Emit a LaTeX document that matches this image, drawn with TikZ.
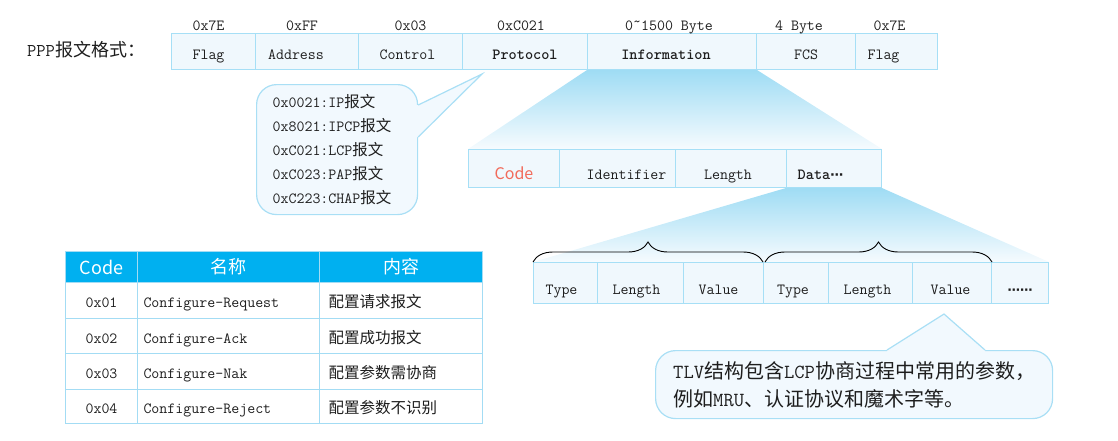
\documentclass[tikz,border=0pt]{standalone}
\usepackage{fontspec}
\newfontfamily\cjk{Noto Sans CJK SC}
\newfontfamily\djv{DejaVu Sans}
\usetikzlibrary{decorations.pathreplacing,backgrounds}
\definecolor{cellfill}{HTML}{F0F8FD}
\definecolor{cellline}{HTML}{A6DFF6}
\definecolor{fanA}{HTML}{9FDCF4}
\definecolor{fanB}{HTML}{F6FBFE}
\definecolor{bubfill}{HTML}{F2F9FE}
\definecolor{bubline}{HTML}{A9DFF5}
\definecolor{txt}{HTML}{1E1E1E}
\definecolor{codered}{HTML}{F26B5B}
\definecolor{headblue}{HTML}{00B0F0}
\definecolor{tabline}{HTML}{A3DCF4}
\begin{document}
\begin{tikzpicture}[x=1pt,y=-1pt,
  mono/.style={font=\ttfamily\fontsize{15.5}{18}\selectfont, text=txt},
  cell/.style={draw=cellline, fill=cellfill, line width=1pt, inner sep=0pt, anchor=north west, mono},
  toprow/.style={cell, minimum height=36pt, text height=15pt, text depth=0pt},
  midrow/.style={cell, minimum height=38pt, text height=22pt, text depth=0pt},
  tlvrow/.style={cell, minimum height=41pt, text height=23pt, text depth=0pt},
  toplabel/.style={mono, anchor=base, inner sep=0pt},
  bubble/.style={draw=bubline, fill=bubfill, line width=1.2pt, rounded corners=20pt, anchor=north west, text=txt},
  bubedge/.style={draw=bubline, line width=1.2pt},
  fan/.style={top color=fanA, bottom color=fanB},
  bracestyle/.style={decorate, decoration={brace, amplitude=20pt}, draw=black, line width=0.9pt},
  thead/.style={draw=tabline, fill=headblue, text=white, font=\cjk\fontsize{18}{20}\selectfont, anchor=north west, inner sep=0pt, line width=1pt},
  tcell/.style={draw=tabline, fill=white, mono, anchor=north west, inner sep=0pt, line width=1pt, text height=14pt, text depth=0pt},
  tname/.style={tcell, text width=170pt, inner xsep=6pt, align=left},
  tcont/.style={tcell, text width=145pt, inner xsep=9pt, align=left, font=\cjk\fontsize{15.5}{18}\selectfont}
]
\useasboundingbox (0,0) rectangle (1118,440);

% title
\node[anchor=base west, inner sep=0pt, text=txt, font=\fontsize{18}{20}\selectfont] (ppp) at (27,56) {{\ttfamily PPP}{\cjk 报文格式：}};

% top row
\node[toprow, minimum width=84pt]  (tflag1) at (171,33) {Flag\kern10pt};
\node[toprow, minimum width=103pt] (taddr)  at (255,33) {Address\kern22pt};
\node[toprow, minimum width=104pt] (tctrl)  at (358,33) {Control\kern6pt};
\node[toprow, minimum width=125pt] (tproto) at (462,33) {\bfseries Protocol};
\node[toprow, minimum width=169pt] (tinfo)  at (587,33) {\bfseries Information\kern12pt};
\node[toprow, minimum width=99pt]  (tfcs)   at (756,33) {FCS};
\node[toprow, minimum width=82pt]  (tflag2) at (855,33) {Flag\kern26pt};

\node[toplabel] (l1) at ([xshift=-5pt,yshift=3pt]tflag1.north) {0x7E};
\node[toplabel] (l2) at ([xshift=-5pt,yshift=3pt]taddr.north) {0xFF};
\node[toplabel] (l3) at ([yshift=3pt]tctrl.north) {0x03};
\node[toplabel] (l4) at ([xshift=-4pt,yshift=3pt]tproto.north) {0xC021};
\node[toplabel] (l5) at ([xshift=-3pt,yshift=3pt]tinfo.north) {0˜1500 Byte};
\node[toplabel] (l6) at ([xshift=-7pt,yshift=3pt]tfcs.north) {4 Byte};
\node[toplabel] (l7) at ([xshift=-7pt,yshift=3pt]tflag2.north) {0x7E};

% protocol bubble
\node[bubble, minimum height=130pt, text width=129pt, inner xsep=16pt, align=left,
      font=\ttfamily\fontsize{15.5}{24}\selectfont] (pbub) at (256,84)
  {0x0021:IP{\cjk 报文}\\0x8021:IPCP{\cjk 报文}\\0xC021:LCP{\cjk 报文}\\0xC023:PAP{\cjk 报文}\\0xC223:CHAP{\cjk 报文}};
\coordinate (ptip) at (482,74);
\fill[bubfill] ([shift={(-3pt,-21pt)}]pbub.north east) -- ([yshift=-21pt]pbub.north east) -- (ptip)
  -- ([yshift=-53pt]pbub.north east) -- ([shift={(-3pt,-53pt)}]pbub.north east) -- cycle;
\draw[bubedge] ([yshift=-21pt]pbub.north east) -- (ptip) -- ([yshift=-53pt]pbub.north east);

% LCP header row
\node[midrow, minimum width=91pt, text=codered, font=\cjk\fontsize{16}{18}\selectfont] (ccode) at (468,149) {Code};
\node[midrow, minimum width=116pt] (cid)   at (559,149) {\kern18pt Identifier};
\node[midrow, minimum width=111pt] (clen)  at (675,149) {Length\kern6pt};
\node[midrow, minimum width=95pt]  (cdata) at (786,149) {\bfseries Data{\djv\fontsize{13}{15}\selectfont ⋯}\kern27pt};

% TLV row
\node[tlvrow, minimum width=64pt] (t1) at (533,262) {Type\kern8pt};
\node[tlvrow, minimum width=86pt] (t2) at (597,262) {Length\kern8pt};
\node[tlvrow, minimum width=80pt] (t3) at (683,262) {Value\kern10pt};
\node[tlvrow, minimum width=65pt] (t4) at (763,262) {Type\kern6pt};
\node[tlvrow, minimum width=84pt] (t5) at (828,262) {Length\kern6pt};
\node[tlvrow, minimum width=79pt] (t6) at (912,262) {Value\kern3pt};
\node[tlvrow, minimum width=57pt] (t7) at (991,262) {{\djv\bfseries\fontsize{12.5}{14}\selectfont ⋯⋯}};

\draw[bracestyle] (t1.north west) -- ([xshift=-1pt]t3.north east);
\draw[bracestyle] ([xshift=2pt]t4.north west) -- (t6.north east);

% fans
\begin{scope}[on background layer]
\shade[fan] (tinfo.south west) -- (tinfo.south east) -- (cdata.north east) -- (ccode.north west) -- cycle;
\shade[fan] (cdata.south west) -- (cdata.south east) -- (t7.north east) -- (t1.north west) -- cycle;
\end{scope}

% TLV note
\node[bubble, minimum width=397pt, minimum height=68pt, align=left,
      font=\fontsize{20}{28}\selectfont] (note) at (655,350)
  {{\ttfamily TLV}{\cjk 结构包含}{\ttfamily LCP}{\cjk 协商过程中常用的参数，}\\{\cjk 例如}{\ttfamily MRU}{\cjk 、认证协议和魔术字等。}};
\coordinate (ntip) at (944,314);
\fill[bubfill] ([shift={(232pt,-3pt)}]note.north west) -- ([xshift=232pt]note.north west) -- (ntip)
  -- ([xshift=330pt]note.north west) -- ([shift={(330pt,-3pt)}]note.north west) -- cycle;
\draw[bubedge] ([xshift=232pt]note.north west) -- (ntip) -- ([xshift=330pt]note.north west);

% table
\node[thead, minimum width=72pt,  minimum height=31pt] (h1) at (65,251)  {Code};
\node[thead, minimum width=182pt, minimum height=31pt] (h2) at (137,251) {名称};
\node[thead, minimum width=163pt, minimum height=31pt] (h3) at (319,251) {内容};

\node[tcell, minimum width=72pt, minimum height=36pt] (a1) at (65,282)  {0x01};
\node[tname, minimum height=36pt] (a2) at (137,282) {Configure-Request};
\node[tcont, minimum height=36pt] (a3) at (319,282) {配置请求报文};

\node[tcell, minimum width=72pt, minimum height=35pt] (b1) at (65,318)  {0x02};
\node[tname, minimum height=35pt] (b2) at (137,318) {Configure-Ack};
\node[tcont, minimum height=35pt] (b3) at (319,318) {配置成功报文};

\node[tcell, minimum width=72pt, minimum height=36pt] (c1) at (65,353)  {0x03};
\node[tname, minimum height=36pt] (c2) at (137,353) {Configure-Nak};
\node[tcont, minimum height=36pt] (c3) at (319,353) {配置参数需协商};

\node[tcell, minimum width=72pt, minimum height=34pt] (d1) at (65,389)  {0x04};
\node[tname, minimum height=34pt] (d2) at (137,389) {Configure-Reject};
\node[tcont, minimum height=34pt] (d3) at (319,389) {配置参数不识别};
\end{tikzpicture}
\end{document}
